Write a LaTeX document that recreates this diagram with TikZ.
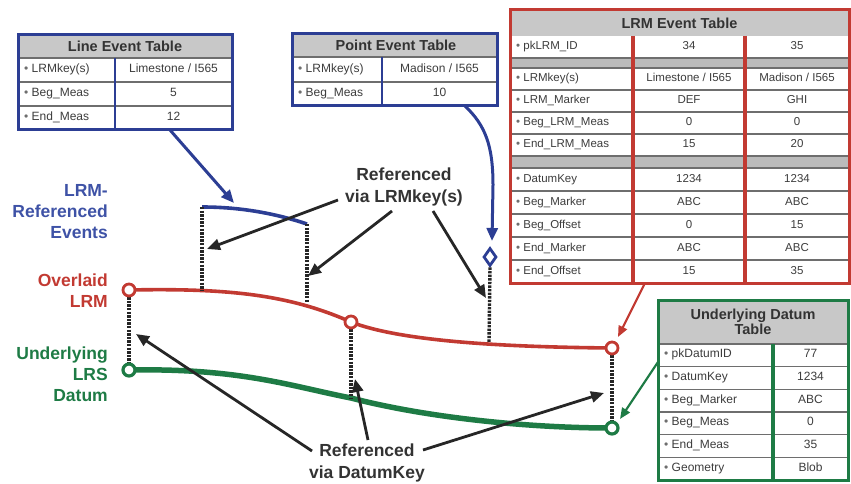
\documentclass[tikz,border=0pt]{standalone}
\usepackage{fontspec}
\setmainfont{Liberation Sans}
\usetikzlibrary{arrows.meta,shapes.geometric}
\definecolor{nblue}{HTML}{2C3E94}
\definecolor{lblblue}{HTML}{3E52A6}
\definecolor{lred}{HTML}{C23A32}
\definecolor{lgreen}{HTML}{1E7B45}
\definecolor{hdrfill}{HTML}{C8C8C8}
\definecolor{sepfill}{HTML}{BBBBBB}
\definecolor{celltxt}{HTML}{3C3C3C}
\definecolor{rowgray}{HTML}{6E6E6E}
\newcommand\LimKey{Limestone / I565}
\newcommand\MadKey{Madison / I565}
\newcommand\bul{{\color{rowgray}\textbullet}\ }
\tikzset{
  lbl/.style={font=\fontsize{17.5}{21}\selectfont\bfseries, align=right, anchor=east, inner sep=0},
  reftxt/.style={font=\fontsize{17.5}{22.5}\selectfont\bfseries, text=black!80, align=center, inner sep=0},
  hdrtxt/.style={font=\fontsize{14.5}{15.5}\selectfont\bfseries, text=black!80, align=center, inner sep=0},
  cellL/.style={font=\fontsize{12}{13}\selectfont, text=celltxt, anchor=mid west, inner sep=0},
  cellC/.style={font=\fontsize{12}{13}\selectfont, text=celltxt, anchor=mid, inner sep=0},
  cellLs/.style={cellL, font=\fontsize{11.5}{12}\selectfont},
  cellCs/.style={cellC, font=\fontsize{11.5}{12}\selectfont},
  rowsep/.style={draw=rowgray, line width=1.5pt},
  dotline/.style={draw=black!85, line width=3.4pt, dash pattern=on 2.4pt off 1.2pt},
  blkarrow/.style={draw=black!85, line width=2.8pt, -{Triangle[length=13pt,width=11pt]}},
  bluearrow/.style={draw=nblue, line width=3pt, -{Triangle[length=13pt,width=11pt]}},
  redarrow/.style={draw=lred, line width=2.2pt, -{Triangle[length=11pt,width=9pt]}},
  greenarrow/.style={draw=lgreen, line width=2.2pt, -{Triangle[length=11pt,width=9pt]}},
  rcirc/.style={circle, draw=lred, fill=white, line width=2.8pt, minimum size=12pt, inner sep=0},
  gcirc/.style={circle, draw=lgreen, fill=white, line width=3.2pt, minimum size=12pt, inner sep=0},
  pdiam/.style={diamond, draw=nblue, fill=white, line width=2.8pt, minimum width=13pt, minimum height=18pt, inner sep=0}
}
\begin{document}
\begin{tikzpicture}[x=1pt,y=-1pt]
\useasboundingbox (0,0) rectangle (851,484);

% ---------- key points ----------
\coordinate (rAc) at (129,290);
\coordinate (rBc) at (351,322);
\coordinate (rCc) at (612,348);
\coordinate (gAc) at (129,370);
\coordinate (gBc) at (351,398);
\coordinate (gCc) at (612,428);
\coordinate (bA) at (202,207);
\coordinate (bB) at (307,224);
\coordinate (rL) at (202,290);
\coordinate (rR) at (307,303);
\coordinate (rP) at (489,342);

% ---------- curves ----------
\draw[lred, line width=3.6pt] (rAc) .. controls (230,288) and (290,295) .. (rBc)
   .. controls (400,341) and (500,347) .. (rCc);
\draw[lgreen, line width=5.5pt] (gAc) .. controls (240,368) and (290,386) .. (gBc)
   .. controls (420,416) and (520,428) .. (gCc);
\draw[nblue, line width=3.6pt] (bA) .. controls (245,207) and (280,215) .. (bB);

% ---------- dotted links ----------
\draw[dotline] (bA) -- (rL);
\draw[dotline] (bB) -- (rR);
\draw[dotline] (rAc) -- (gAc);
\draw[dotline] (rBc) -- (gBc);
\draw[dotline] (rCc) -- (gCc);

% ---------- circles and diamond ----------
\node[rcirc] (rA) at (rAc) {};
\node[rcirc] (rB) at (rBc) {};
\node[rcirc] (rC) at (rCc) {};
\node[gcirc] (gA) at (gAc) {};
\node[gcirc] (gC) at (gCc) {};
\node[pdiam] (pd) at (490,257) {};
\draw[dotline] (pd.south) -- (rP);

% ---------- side labels ----------
\node[lbl, text=lblblue] (lblEv) at (108,212) {LRM-\\Referenced\\Events};
\node[lbl, text=lred] (lblOv) at (108,291) {Overlaid\\LRM};
\node[lbl, text=lgreen] (lblUn) at (108,374) {Underlying\\LRS\\Datum};

% ---------- Line Event Table ----------
\fill[hdrfill] (18,35) rectangle (232,58);
\foreach \yy in {58,82,106} \draw[rowsep] (18,\yy) -- (232,\yy);
\draw[nblue, line width=2.4pt] (115,58) -- (115,130);
\draw[nblue, line width=3pt] (18,35) rectangle (232,130);
\node[hdrtxt] (lt-h) at (125,46.5) {Line Event Table};
\node[cellL] (lt-l1) at (24,70) {\bul LRMkey(s)};
\node[cellC] (lt-r1) at (173.5,70) {\LimKey};
\node[cellL] (lt-l2) at (24,94) {\bul Beg\_Meas};
\node[cellC] (lt-r2) at (173.5,94) {5};
\node[cellL] (lt-l3) at (24,118) {\bul End\_Meas};
\node[cellC] (lt-r3) at (173.5,118) {12};

% ---------- Point Event Table ----------
\fill[hdrfill] (292,34) rectangle (497,57);
\foreach \yy in {57,82} \draw[rowsep] (292,\yy) -- (497,\yy);
\draw[nblue, line width=2.4pt] (382,57) -- (382,106);
\draw[nblue, line width=3pt] (292,34) rectangle (497,106);
\node[hdrtxt] (pt-h) at (396,45.5) {Point Event Table};
\node[cellL] (pt-l1) at (298,69.5) {\bul LRMkey(s)};
\node[cellC] (pt-r1) at (439.5,69.5) {\MadKey};
\node[cellL] (pt-l2) at (298,94) {\bul Beg\_Meas};
\node[cellC] (pt-r2) at (439.5,94) {10};

% ---------- LRM Event Table ----------
\fill[hdrfill] (510,10) rectangle (849,36);
\fill[sepfill] (510,58) rectangle (849,68);
\fill[sepfill] (510,156) rectangle (849,168);
\foreach \yy in {58,68,90,112,134,156,168,191,214,237,260} \draw[rowsep] (510,\yy) -- (849,\yy);
\draw[lred, line width=3.6pt] (633,36) -- (633,283);
\draw[lred, line width=3.6pt] (745,36) -- (745,283);
\draw[lred, line width=3pt] (510,10) rectangle (849,283);
\node[hdrtxt] (lrm-h) at (679.5,23) {LRM Event Table};
\foreach \yy/\a/\b/\c [count=\i] in {
   47/pkLRM\_ID/34/35,
   79/LRMkey(s)/\LimKey/\MadKey,
   101/LRM\_Marker/DEF/GHI,
   123/Beg\_LRM\_Meas/0/0,
   145/End\_LRM\_Meas/15/20,
   179.5/DatumKey/1234/1234,
   202.5/Beg\_Marker/ABC/ABC,
   225.5/Beg\_Offset/0/15,
   248.5/End\_Marker/ABC/ABC,
   271.5/End\_Offset/15/35}{
  \node[cellLs] (lrm-a\i) at (516,\yy) {\bul \a};
  \node[cellCs] (lrm-b\i) at (689,\yy) {\b};
  \node[cellCs] (lrm-c\i) at (797,\yy) {\c};
}

% ---------- Underlying Datum Table ----------
\fill[hdrfill] (658,300) rectangle (848,344);
\foreach \yy in {344,366.7,389.3,412,434.7,457.3} \draw[rowsep] (658,\yy) -- (848,\yy);
\draw[lgreen, line width=3.4pt] (773,344) -- (773,480);
\draw[lgreen, line width=3pt] (658,300) rectangle (848,480);
\node[hdrtxt] (dt-h) at (753,322) {Underlying Datum\\Table};
\foreach \yy/\a/\b [count=\i] in {
   355.3/pkDatumID/77,
   378/DatumKey/1234,
   400.7/Beg\_Marker/ABC,
   423.3/Beg\_Meas/0,
   446/End\_Meas/35,
   468.7/Geometry/Blob}{
  \node[cellL] (dt-a\i) at (664,\yy) {\bul \a};
  \node[cellC] (dt-b\i) at (810.5,\yy) {\b};
}

% ---------- table connectors ----------
\coordinate (ltOut) at (170,130);
\coordinate (ltIn) at (234,203);
\draw[bluearrow] (ltOut) -- (ltIn);
\coordinate (ptOut) at (465,106);
\coordinate (ptIn) at (492,241);
\draw[bluearrow] (ptOut) .. controls (485,125) and (493,145) .. (493,185) -- (ptIn);
\coordinate (lrmOut) at (645,283);
\coordinate (lrmIn) at (618,337);
\draw[redarrow] (lrmOut) -- (lrmIn);
\coordinate (dtOut) at (658,362);
\coordinate (dtIn) at (620,419);
\draw[greenarrow] (dtOut) -- (dtIn);

% ---------- Referenced via LRMkey(s) ----------
\node[reftxt] (refK) at (404,187) {Referenced\\via LRMkey(s)};
\coordinate (k1s) at (338,200);
\coordinate (k1t) at (207,249);
\coordinate (k2s) at (392,211);
\coordinate (k2t) at (308,276);
\coordinate (k3s) at (433,211);
\coordinate (k3t) at (486,298);
\draw[blkarrow] (k1s) -- (k1t);
\draw[blkarrow] (k2s) -- (k2t);
\draw[blkarrow] (k3s) -- (k3t);

% ---------- Referenced via DatumKey ----------
\node[reftxt] (refD) at (367,463) {Referenced\\via DatumKey};
\coordinate (d1s) at (312,451);
\coordinate (d1t) at (136,334);
\coordinate (d2s) at (368,440);
\coordinate (d2t) at (355,379);
\coordinate (d3s) at (423,450);
\coordinate (d3t) at (604,393);
\draw[blkarrow] (d1s) -- (d1t);
\draw[blkarrow] (d2s) -- (d2t);
\draw[blkarrow] (d3s) -- (d3t);
\end{tikzpicture}
\end{document}
